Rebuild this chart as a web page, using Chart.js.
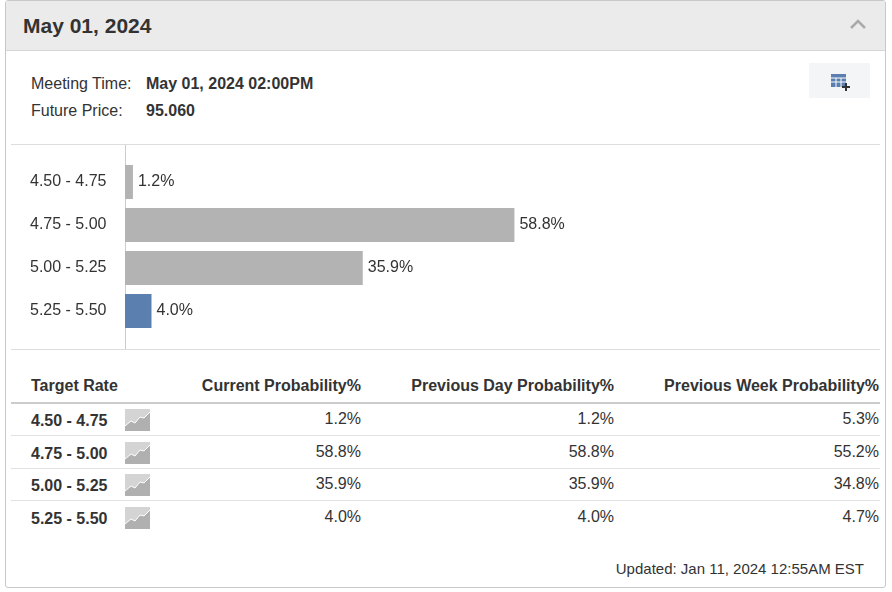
<!DOCTYPE html>
<html>
<head>
<meta charset="utf-8">
<script src="https://cdn.jsdelivr.net/npm/chart.js@4.4.1/dist/chart.umd.min.js"></script>
<style>
  body { margin: 0; background: #fff; font-family: "Liberation Sans", Arial, sans-serif; color: #333; }
  .box { position: absolute; left: 5px; top: 0; width: 879px; height: 586px; border: 1px solid #c8c8c8; border-radius: 3px; }
  .head { position: absolute; left: 0; top: 0; width: 879px; height: 49px; background: #ebebeb; border-bottom: 1px solid #d6d6d6; }
  .abs { position: absolute; white-space: nowrap; }
  .line { position: absolute; height: 1px; background: #ddd; }
  .icon { position: absolute; width: 25px; height: 22px; }
</style>
</head>
<body>
<div class="box">
  <div class="head"></div>
  <div class="abs" style="left:17px;top:13px;font-size:21px;font-weight:bold;">May 01, 2024</div>
  <svg class="abs" style="left:843px;top:17px" width="18" height="12"><polyline points="2,10 9,3 16,10" fill="none" stroke="#aaa" stroke-width="2.5"/></svg>
  <div class="abs" style="left:25px;top:74px;font-size:16px;">Meeting Time:</div>
  <div class="abs" style="left:140px;top:74px;font-size:16px;font-weight:bold;">May 01, 2024 02:00PM</div>
  <div class="abs" style="left:25px;top:101px;font-size:16px;">Future Price:</div>
  <div class="abs" style="left:140px;top:101px;font-size:16px;font-weight:bold;">95.060</div>
  <div class="abs" style="left:803px;top:62px;width:61px;height:35px;background:#f4f5f6;"></div>
  <svg class="abs" style="left:824px;top:71px" width="22" height="20">
    <rect x="1" y="2" width="15" height="13" fill="#5b7fae"/>
    <g stroke="#fff" stroke-width="1"><line x1="1" y1="6" x2="16" y2="6"/><line x1="1" y1="10" x2="16" y2="10"/><line x1="6" y1="6" x2="6" y2="15"/><line x1="11" y1="6" x2="11" y2="15"/></g>
    <path d="M16 11v8M12 15h8" stroke="#333" stroke-width="2"/>
  </svg>
</div>
<div class="line" style="left:11px;top:144px;width:869px;"></div>
<div class="line" style="left:11px;top:349px;width:869px;"></div>
<div class="abs" style="left:125px;top:145px;width:1px;height:204px;background:#ccc;"></div>
<canvas id="chart" width="850" height="191" style="position:absolute;left:30px;top:151px;"></canvas>

<div id="table"></div>
<div class="abs" style="right:28px;top:560px;font-size:15px;">Updated: Jan 11, 2024 12:55AM EST</div>

<script>
const rates = ['4.50 - 4.75', '4.75 - 5.00', '5.00 - 5.25', '5.25 - 5.50'];
const currentProb = [1.2, 58.8, 35.9, 4.0];
const prevDayProb = [1.2, 58.8, 35.9, 4.0];
const prevWeekProb = [5.3, 55.2, 34.8, 4.7];
const barColors = ['#b3b3b3', '#b3b3b3', '#b3b3b3', '#5b7fae'];

// table built from the arrays
let html = '<div class="abs" style="left:31px;top:377px;font-size:16px;font-weight:bold;">Target Rate</div>' +
    '<div class="abs" style="right:531px;top:377px;font-size:16px;font-weight:bold;">Current Probability%</div>' +
    '<div class="abs" style="right:278px;top:377px;font-size:16px;font-weight:bold;">Previous Day Probability%</div>' +
    '<div class="abs" style="right:13px;top:377px;font-size:16px;font-weight:bold;">Previous Week Probability%</div>' +
    '<div class="abs" style="left:11px;top:402px;width:869px;height:2px;background:#ccc;"></div>';
rates.forEach((r, i) => {
    const y = 405 + i * 32.5;
    html += `<div class="abs" style="left:31px;top:${y + 7}px;font-size:16px;font-weight:bold;">${r}</div>`;
    html += `<svg class="icon" style="left:125px;top:${y + 4}px"><rect width="25" height="22" fill="#d4d4d4"/><polygon points="0,22 0,17 6,12 10,14 15,8 19,9 25,3 25,22" fill="#b0b0b0"/><polyline points="0,17 6,12 10,14 15,8 19,9 25,3" fill="none" stroke="#fff" stroke-width="1"/></svg>`;
    html += `<div class="abs" style="right:531px;top:${y + 5}px;font-size:16px;">${currentProb[i].toFixed(1)}%</div>`;
    html += `<div class="abs" style="right:278px;top:${y + 5}px;font-size:16px;">${prevDayProb[i].toFixed(1)}%</div>`;
    html += `<div class="abs" style="right:13px;top:${y + 5}px;font-size:16px;">${prevWeekProb[i].toFixed(1)}%</div>`;
    if (i < rates.length - 1) html += `<div class="line" style="left:11px;top:${y + 30}px;width:869px;background:#e2e2e2;"></div>`;
});
document.getElementById('table').innerHTML = html;

// value labels at the end of each bar
const valueLabels = {
    id: 'valueLabels',
    afterDatasetsDraw(chart) {
        const ctx = chart.ctx;
        ctx.save();
        ctx.font = '16px "Liberation Sans", Arial, sans-serif';
        ctx.fillStyle = '#333';
        ctx.textBaseline = 'middle';
        chart.getDatasetMeta(0).data.forEach((bar, i) => {
            ctx.fillText(currentProb[i].toFixed(1) + '%', bar.x + 5, bar.y);
        });
        ctx.restore();
    }
};

new Chart(document.getElementById('chart'), {
    type: 'bar',
    data: {
        labels: rates,
        datasets: [{
            data: currentProb,
            backgroundColor: barColors,
            categoryPercentage: 1,
            barPercentage: 0.79
        }]
    },
    options: {
        indexAxis: 'y',
        responsive: false,
        animation: false,
        layout: { padding: 0 },
        plugins: { legend: { display: false }, tooltip: { enabled: false } },
        scales: {
            x: { display: false, min: 0, max: 114 },
            y: {
                grid: { display: false },
                border: { display: false },
                ticks: { color: '#333', font: { size: 16, family: '"Liberation Sans", Arial, sans-serif' }, crossAlign: 'far', padding: 0 },
                afterFit(scale) { scale.width = 95; }
            }
        }
    },
    plugins: [valueLabels]
});
</script>
</body>
</html>
